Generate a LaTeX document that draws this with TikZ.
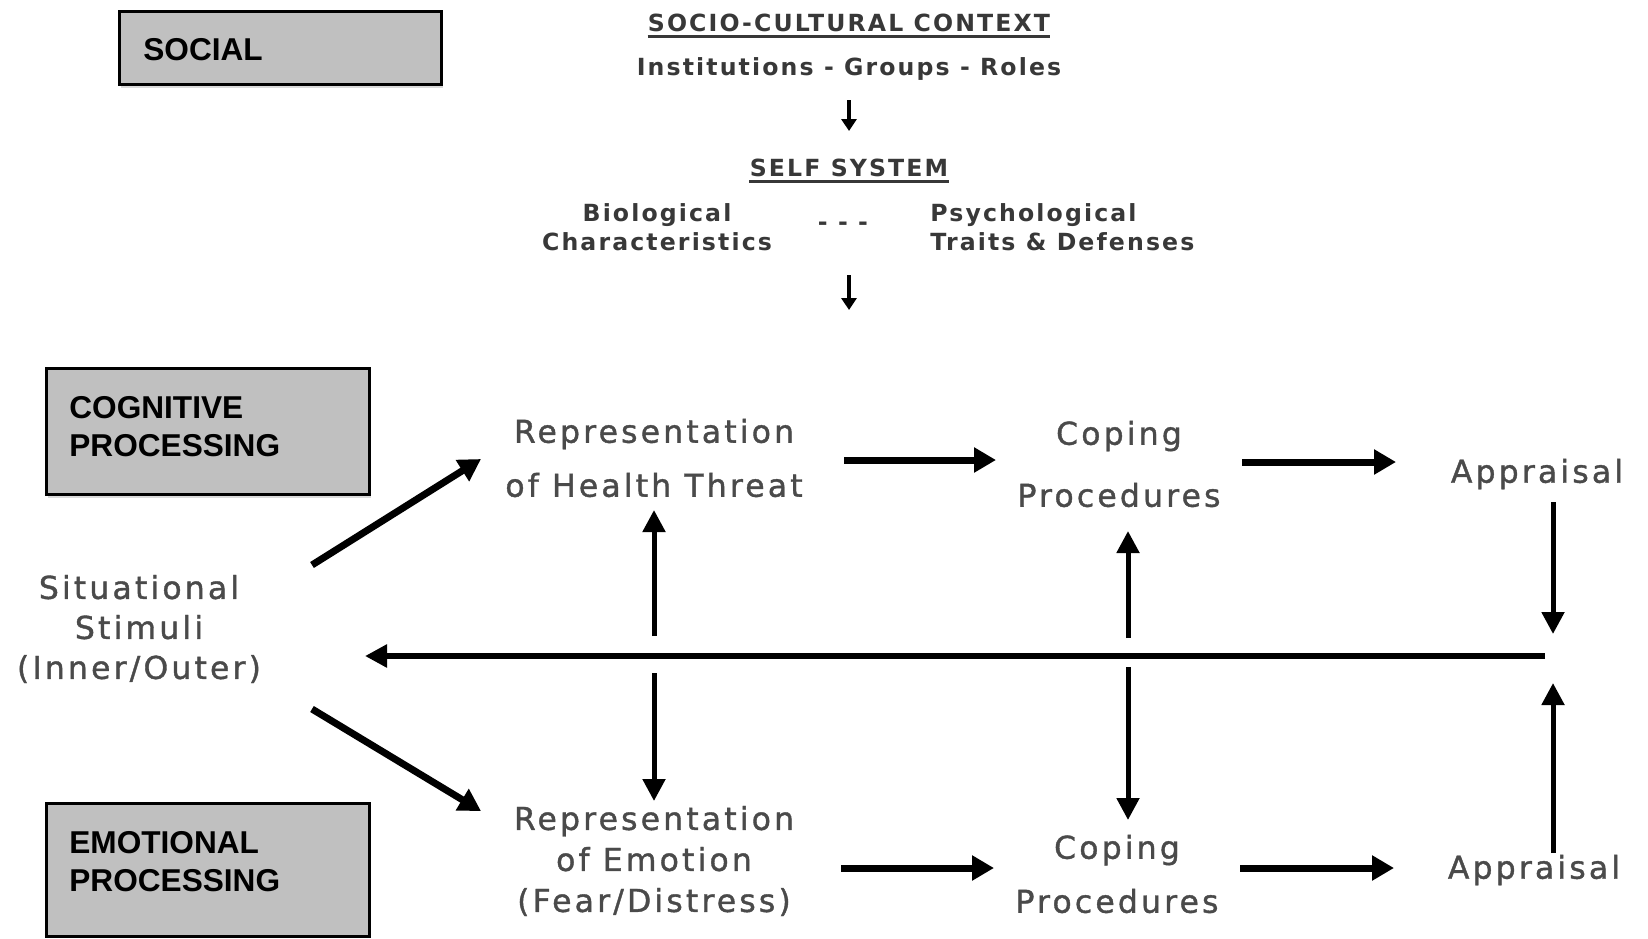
\documentclass[tikz,border=0pt]{standalone}
\usepackage{fontspec}
\setmainfont{DejaVu Sans}
\newfontfamily\boxfont{Liberation Sans}
\newfontfamily\lblfont{DejaVu Sans}[LetterSpace=10,FakeBold=1.2]
\newfontfamily\topfont{DejaVu Sans}[LetterSpace=9]
\usetikzlibrary{arrows.meta}

\definecolor{boxgray}{HTML}{C0C0C0}
\definecolor{shadowgray}{HTML}{DADADA}
\definecolor{txtgray}{HTML}{4A4A4A}
\definecolor{topgray}{HTML}{383838}

\begin{document}
\begin{tikzpicture}[x=0.5pt,y=-0.5pt,
  catbox/.style={draw=black, line width=1.5pt, fill=boxgray},
  catshadow/.style={fill=shadowgray},
  catlabel/.style={font=\boxfont\bfseries\fontsize{15.8}{19}\selectfont,
    align=left, anchor=west, inner sep=0pt},
  lbl/.style={font=\lblfont\fontsize{15.75}{#1}\selectfont, text=txtgray,
    align=center, inner sep=0pt},
  lbl/.default=20,
  toplbl/.style={font=\topfont\bfseries\fontsize{11.8}{14.5}\selectfont,
    text=topgray, align=center, inner sep=0pt},
  uline/.style={line width=1.5pt, topgray},
  arr/.style={line width=3.5pt, -{Triangle[length=11pt,width=12pt]}},
  varr/.style={line width=2.5pt, -{Triangle[length=11pt,width=11pt]}},
  longarr/.style={line width=3.2pt, -{Triangle[length=11pt,width=11pt]}},
  smallarr/.style={line width=2pt, black, -{Triangle[length=6pt,width=7.5pt]}}]

\useasboundingbox (0,0) rectangle (1648,938);

% category boxes on the left
\fill[catshadow] (121,15) rectangle (443,88);
\draw[catbox] (119,11) rectangle (441,84);
\node[catlabel] (social) at (143,50) {SOCIAL};

\fill[catshadow] (48,372) rectangle (371,498);
\draw[catbox] (46,368) rectangle (369,494);
\node[catlabel] (cog) at (69,427) {COGNITIVE\\PROCESSING};

\draw[catbox] (46,803) rectangle (369,936);
\node[catlabel] (emo) at (69,861.5) {EMOTIONAL\\PROCESSING};

% social context and self system
\node[toplbl] (socio) at (849,23) {SOCIO-CULTURAL CONTEXT};
\draw[uline] ([yshift=-2pt]socio.south west) -- ([yshift=-2pt]socio.south east);
\node[toplbl] (inst) at (849,69) {Institutions - Groups - Roles};
\node[toplbl] (self) at (849,168) {SELF SYSTEM};
\draw[uline] ([yshift=-2pt]self.south west) -- ([yshift=-2pt]self.south east);
\node[toplbl] (bio) at (657,227) {Biological\\Characteristics};
\node[toplbl] (dots) at (843,226) {- - -};
\node[toplbl, align=left, anchor=west] (psy) at (930,227) {Psychological\\Traits \& Defenses};
\coordinate (selfout) at (849,310);

\draw[smallarr, shorten <=15.5pt, shorten >=18.5pt] (inst.center) -- (self.center);
\draw[smallarr, shorten <=53.5pt] (self.center) -- (selfout);

% processing nodes
\node[lbl=27] (rh) at (654,458) {Representation\\of Health Threat};
\node[lbl=31] (ct) at (1119,464) {Coping\\Procedures};
\node[lbl] (at) at (1537,474) {Appraisal};
\node[lbl=20] (stim) at (139,629) {Situational\\Stimuli\\(Inner/Outer)};
\node[lbl=20.5] (re) at (654,861) {Representation\\of Emotion\\(Fear/Distress)};
\node[lbl=27] (cb) at (1117,874) {Coping\\Procedures};
\node[lbl] (ab) at (1534,870) {Appraisal};

% junctions on the feedback line
\coordinate (hub) at (1553,656);
\coordinate (xl) at (654,655);
\coordinate (xr) at (1128,656);

% feedback line back to the stimuli
\draw[longarr] ([xshift=-4pt]hub) -- ([shift={(226,27)}]stim.center);

% stimuli to both representations
\draw[arr] ([shift={(173,-64)}]stim.center) -- ([shift={(-173,1)}]rh.center);
\draw[arr] ([shift={(173,80)}]stim.center) -- ([shift={(-173,-50)}]re.center);

% cognitive row
\draw[arr] ([shift={(190,2)}]rh.center) -- ([shift={(-123,-4)}]ct.center);
\draw[arr] ([shift={(123,-2)}]ct.center) -- ([shift={(-141,-12)}]at.center);
\draw[varr] ([shift={(16,28)}]at.center) -- ([yshift=11pt]hub);

% emotional row
\draw[arr] ([shift={(187,7)}]re.center) -- ([shift={(-123,-6)}]cb.center);
\draw[arr] ([shift={(123,-6)}]cb.center) -- ([shift={(-140,-2)}]ab.center);
\draw[varr] ([shift={(19,-17)}]ab.center) -- ([yshift=-13.5pt]hub);

% links between the two rows
\draw[varr] ([yshift=9.5pt]xl) -- ([shift={(0,52)}]rh.center);
\draw[varr] ([yshift=-9pt]xl) -- ([shift={(0,-60)}]re.center);
\draw[varr] ([yshift=9pt]xr) -- ([shift={(9,67)}]ct.center);
\draw[varr] ([yshift=-5.5pt]xr) -- ([shift={(11,-54)}]cb.center);

\end{tikzpicture}
\end{document}
